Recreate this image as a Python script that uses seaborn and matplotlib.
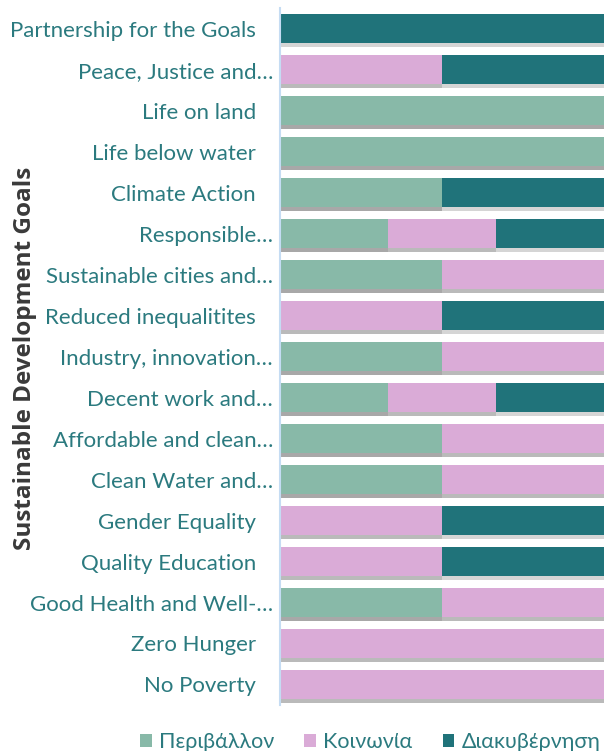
import matplotlib
matplotlib.use('Agg')

import matplotlib.pyplot as plt
import matplotlib.patheffects as pe
from matplotlib.patches import Patch
import pandas as pd
import seaborn as sns

goals = ["Partnership for the Goals", "Peace, Justice and…", "Life on land",
         "Life below water", "Climate Action", "Responsible…",
         "Sustainable cities and…", "Reduced inequalitites", "Industry, innovation…",
         "Decent work and…", "Affordable and clean…", "Clean Water and…",
         "Gender Equality", "Quality Education", "Good Health and Well-…",
         "Zero Hunger", "No Poverty"]
environment = [0, 0, 1, 1, 1, 1, 1, 0, 1, 1, 1, 1, 0, 0, 1, 0, 0]
society = [0, 1, 0, 0, 0, 1, 1, 1, 1, 1, 1, 1, 1, 1, 1, 1, 1]
governance = [1, 1, 0, 0, 1, 1, 0, 1, 0, 1, 0, 0, 1, 1, 0, 0, 0]
series_names = ["Περιβάλλον", "Κοινωνία", "Διακυβέρνηση"]
colors = ["#88b9a8", "#daabd7", "#20737a"]

TEXT = "#2b7a7f"

df = pd.DataFrame({"goal": goals, "env": environment, "soc": society, "gov": governance})
total = df[["env", "soc", "gov"]].sum(axis=1)
# cumulative shares, drawn from the widest layer down
df["c1"] = df["env"] / total
df["c2"] = (df["env"] + df["soc"]) / total
df["c3"] = (df["env"] + df["soc"] + df["gov"]) / total

sns.set_style("white")
plt.rcParams["font.family"] = ["Lato", "Noto Sans", "DejaVu Sans"]

fig = plt.figure(figsize=(6.04, 7.51), dpi=100)
ax = fig.add_axes([0.4636, 0.0613, 0.5364, 0.9277])

shadow = [pe.SimplePatchShadow(offset=(0, -3), shadow_rgbFace="#888888", alpha=0.35), pe.Normal()]
for col, color in zip(["c3", "c2", "c1"], colors[::-1]):
    sns.barplot(data=df, x=col, y="goal", color=color, width=0.7, ax=ax,
                saturation=1, edgecolor="none", linewidth=0)
for bar in ax.patches:
    bar.set_path_effects(shadow)

ax.set_xlim(0, 1)
ax.set_xticks([])
ax.set_xlabel("")
for s in ["top", "right", "bottom"]:
    ax.spines[s].set_visible(False)
ax.spines["left"].set_color("#c5dcf3")
ax.spines["left"].set_linewidth(1.5)
ax.tick_params(axis="y", length=0, pad=5, labelsize=16, labelcolor=TEXT, left=False)
# untruncated labels carry trailing space in the original
ax.set_yticks(range(len(goals)))
ax.set_yticklabels([g if g.endswith("…") else g + "   " for g in goals])

ax.set_ylabel("Sustainable Development Goals", fontsize=17.5, fontweight="bold",
              color="#3a3a3a", family=["Open Sans", "DejaVu Sans"])
ax.yaxis.set_label_coords(-0.75, 0.498)

handles = [Patch(facecolor=c, edgecolor="none") for c in colors]
leg = fig.legend(handles, series_names, loc="lower center", bbox_to_anchor=(0.613, -0.027),
                 ncol=3, frameon=False, fontsize=15.5, handlelength=0.52, handleheight=0.52,
                 handletextpad=0.35, columnspacing=1.4)
for t in leg.get_texts():
    t.set_color(TEXT)

fig.savefig("out.png", dpi=100)
plt.close(fig)
